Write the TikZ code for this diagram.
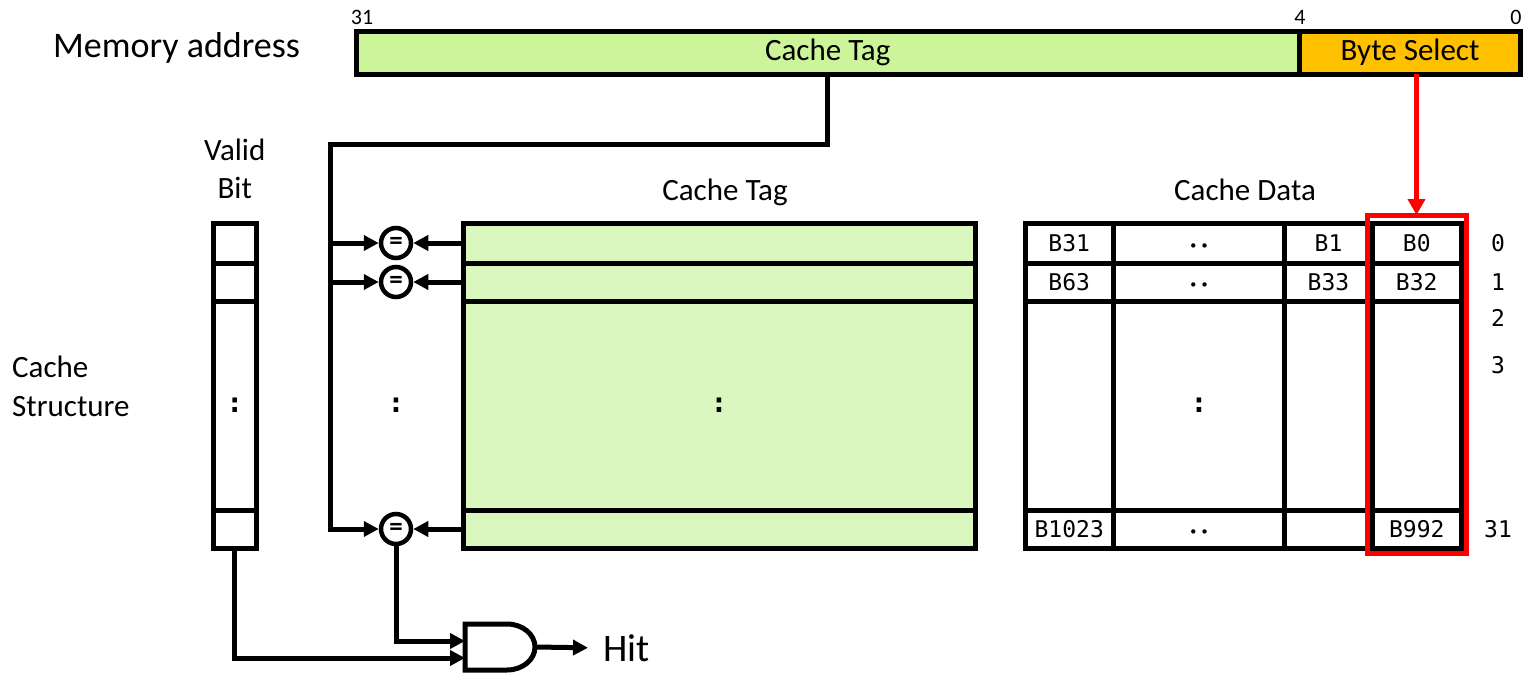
\documentclass[tikz,border=0pt]{standalone}
\usepackage{fontspec}
\setmainfont{Carlito}
\setmonofont{DejaVu Sans Mono}
\usetikzlibrary{arrows.meta}
\definecolor{tagbar}{RGB}{204,245,154}
\definecolor{tagarr}{RGB}{218,247,192}
\definecolor{bsel}{RGB}{255,192,0}
\definecolor{selred}{RGB}{255,0,0}
\begin{document}
\begin{tikzpicture}[x=1pt,y=-1pt,
  box/.style={draw=black, line width=5pt, rectangle, inner sep=0pt, outer sep=0pt, anchor=north west},
  cell/.style={box, fill=white, font=\ttfamily\fontsize{23}{26}\selectfont, text height=16.8pt, text depth=0pt},
  wire/.style={draw=black, line width=5pt},
  arr/.style={wire, -{Triangle[length=15pt,width=15pt]}},
  cmpbox/.style={circle, draw=black, line width=4.5pt, minimum size=30pt, inner sep=0pt, fill=white, font=\fontsize{27}{27}\selectfont\bfseries},
  lbl/.style={font=\fontsize{31}{36}\selectfont, inner sep=0pt},
  mono/.style={font=\ttfamily\fontsize{23}{26}\selectfont, inner sep=0pt},
  dotsty/.style={font=\ttfamily\bfseries\fontsize{28}{28}\selectfont, inner sep=0pt},
  small/.style={font=\fontsize{22}{22}\selectfont, inner sep=0pt}
]
\useasboundingbox (0,0) rectangle (1524,675);

% memory address
\node[lbl, font=\fontsize{36}{40}\selectfont, anchor=base west] (memaddr) at (53,57) {Memory address};
\node[box, fill=tagbar, minimum width=943.5pt, minimum height=43pt, lbl] (addrtag) at (356,31) {Cache Tag};
\node[box, fill=bsel, minimum width=221pt, minimum height=43pt, lbl] (bytesel) at (1299.5,31) {Byte Select};
\node[small] (n31) at (362,17) {31};
\node[small] (n4) at (1300,17) {4};
\node[small] (n0) at (1516,17) {0};

% headers
\node[lbl, anchor=base] (valid) at (234.75,160) {Valid};
\node[lbl, anchor=base] (bit) at (234.75,198) {Bit};
\node[lbl, anchor=base] (tagh) at (725,200) {Cache Tag};
\node[lbl, anchor=base] (datah) at (1245,200) {Cache Data};
\node[lbl, anchor=base west] (cs1) at (12,377) {Cache};
\node[lbl, anchor=base west] (cs2) at (12,416) {Structure};

% valid bits
\node[box, fill=white, minimum width=43.5pt, minimum height=40pt] (vb1) at (213,223) {};
\node[box, fill=white, minimum width=43.5pt, minimum height=38pt] (vb2) at (213,263) {};
\node[box, fill=white, minimum width=43.5pt, minimum height=209pt] (vbm) at (213,301) {};
\node[box, fill=white, minimum width=43.5pt, minimum height=38pt] (vbN) at (213,510) {};

% tag array
\node[box, fill=tagarr, minimum width=512pt, minimum height=40pt] (tag1) at (463,223) {};
\node[box, fill=tagarr, minimum width=512pt, minimum height=38pt] (tag2) at (463,263) {};
\node[box, fill=tagarr, minimum width=512pt, minimum height=209pt] (tagm) at (463,301) {};
\node[box, fill=tagarr, minimum width=512pt, minimum height=38pt] (tagN) at (463,510) {};

% data array
\node[cell, minimum width=88.5pt, minimum height=40pt] (d11) at (1025,223) {B31};
\node[cell, minimum width=171pt, minimum height=40pt] (d12) at (1113.5,223) {\fontsize{15}{15}\selectfont•\hspace{2pt}•};
\node[cell, minimum width=88pt, minimum height=40pt] (d13) at (1284.5,223) {B1};
\node[cell, minimum width=88.5pt, minimum height=40pt] (d14) at (1372.5,223) {B0};
\node[cell, minimum width=88.5pt, minimum height=38pt] (d21) at (1025,263) {B63};
\node[cell, minimum width=171pt, minimum height=38pt] (d22) at (1113.5,263) {\fontsize{15}{15}\selectfont•\hspace{2pt}•};
\node[cell, minimum width=88pt, minimum height=38pt] (d23) at (1284.5,263) {B33};
\node[cell, minimum width=88.5pt, minimum height=38pt] (d24) at (1372.5,263) {B32};
\node[cell, minimum width=88.5pt, minimum height=209pt] (d31) at (1025,301) {};
\node[cell, minimum width=171pt, minimum height=209pt] (d32) at (1113.5,301) {};
\node[cell, minimum width=88pt, minimum height=209pt] (d33) at (1284.5,301) {};
\node[cell, minimum width=88.5pt, minimum height=209pt] (d34) at (1372.5,301) {};
\node[cell, minimum width=88.5pt, minimum height=38pt] (d41) at (1025,510) {B1023};
\node[cell, minimum width=171pt, minimum height=38pt] (d42) at (1113.5,510) {\fontsize{15}{15}\selectfont•\hspace{2pt}•};
\node[cell, minimum width=88pt, minimum height=38pt] (d43) at (1284.5,510) {};
\node[cell, minimum width=88.5pt, minimum height=38pt] (d44) at (1372.5,510) {B992};

% selected column
\node[box, draw=selred, line width=5pt, minimum width=99pt, minimum height=338pt] (sel) at (1367,215) {};
\draw[line width=5pt, draw=selred, -{Triangle[length=16pt,width=17pt]}] (sel.north |- bytesel.south) -- (sel.north);

% row numbers
\node[mono] (r0) at (1498,243) {0};
\node[mono] (r1) at (1498,282) {1};
\node[mono] (r2) at (1498,318) {2};
\node[mono] (r3) at (1498,365) {3};
\node[mono] (r31) at (1498,529) {31};

% comparators
\node[cmpbox] (cmp1) at (396,243) {=};
\node[cmpbox] (cmp2) at (396,282) {=};
\node[cmpbox] (cmpN) at (396,529) {=};

% colons
\node[dotsty] (c1) at (234.75,405.5) {:};
\node[dotsty] (c2) at (396,405.5) {:};
\node[dotsty] (c3) at (719,405.5) {:};
\node[dotsty] (c4) at (1199,405.5) {:};

% tag bus
\coordinate (busTop) at (330,144);
\coordinate (busBot) at (330,529);
\draw[arr] (addrtag.south) |- (busTop) -- (busBot) -- (cmpN.west);
\draw[arr] (busTop |- cmp1) -- (cmp1.west);
\draw[arr] (busTop |- cmp2) -- (cmp2.west);
\draw[arr] (tag1.west) -- (cmp1.east);
\draw[arr] (tag2.west) -- (cmp2.east);
\draw[arr] (tagN.west) -- (cmpN.east);

% AND gate
\draw[wire, fill=white] (465,624) -- (507,624) .. controls (522.5,624) and (535,634.3) .. (535,647) .. controls (535,659.7) and (522.5,670) .. (507,670) -- (465,670) -- cycle;
\coordinate (gA) at (465,641);
\coordinate (gB) at (465,658);
\coordinate (gOut) at (535,647);
\node[lbl, font=\fontsize{39}{44}\selectfont, anchor=west] (hit) at (603,648) {Hit};
\draw[arr] (cmpN.south) |- (gA);
\draw[arr] (vbN.south) |- (gB);
\draw[arr, shorten >=15pt] (gOut) -- (hit.west);
\end{tikzpicture}
\end{document}
